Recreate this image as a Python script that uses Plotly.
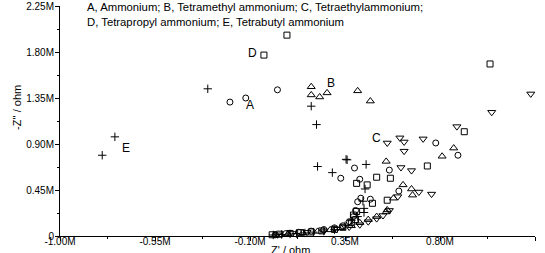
import plotly.graph_objects as go

# Series values (ohm, in units of 1e6)
A_x = [-0.195, -0.12, 0.03, 0.78, 0.885, 0.395, 0.56, 0.33, 0.42, 0.605, 0.41, 0.425, 0.47, 0.40, 0.39, 0.37, 0.34, 0.30, 0.25, 0.19, 0.13, 0.07, 0.02]
A_y = [1.31, 1.35, 1.43, 0.91, 0.79, 0.665, 0.645, 0.565, 0.555, 0.44, 0.335, 0.37, 0.36, 0.25, 0.19, 0.14, 0.10, 0.080, 0.063, 0.048, 0.036, 0.024, 0.012]

B_x = [0.19, 0.19, 0.23, 0.265, 0.41, 0.47, 0.545, 0.81, 0.865, 0.625, 0.665, 0.67, 0.58, 0.55, 0.545, 0.50, 0.46, 0.42, 0.38, 0.33, 0.28, 0.22, 0.15, 0.08, 0.02]
B_y = [1.46, 1.38, 1.36, 1.40, 1.42, 1.32, 0.73, 0.78, 0.86, 0.50, 0.46, 0.40, 0.37, 0.255, 0.235, 0.19, 0.16, 0.13, 0.10, 0.080, 0.060, 0.045, 0.032, 0.020, 0.010]

C_x = [1.23, 1.045, 0.88, 0.72, 0.63, 0.61, 0.55, 0.63, 0.615, 0.665, 0.70, 0.76, 0.60, 0.56, 0.53, 0.50, 0.46, 0.42, 0.37, 0.31, 0.25, 0.17, 0.10, 0.03]
C_y = [1.39, 1.21, 1.07, 0.95, 0.92, 0.96, 0.91, 0.83, 0.67, 0.64, 0.43, 0.41, 0.385, 0.25, 0.20, 0.17, 0.14, 0.11, 0.088, 0.066, 0.050, 0.036, 0.025, 0.012]

D_x = [-0.034, 0.075, 1.037, 0.915, 0.74, 0.50, 0.565, 0.405, 0.455, 0.55, 0.48, 0.405, 0.39, 0.40, 0.38, 0.34, 0.30, 0.24, 0.19, 0.14, 0.09, 0.04, 0.005]
D_y = [1.77, 1.965, 1.683, 1.02, 0.685, 0.575, 0.565, 0.515, 0.50, 0.35, 0.32, 0.24, 0.205, 0.16, 0.13, 0.085, 0.065, 0.050, 0.040, 0.033, 0.025, 0.018, 0.012]

E_x = [-0.80, -0.74, -0.30, 0.19, 0.215, 0.22, 0.29, 0.355, 0.36, 0.45, 0.445, 0.435, 0.44, 0.44, 0.41, 0.38, 0.35, 0.30, 0.25, 0.20, 0.16, 0.12, 0.09, 0.05, 0.01]
E_y = [0.79, 0.97, 1.44, 1.27, 1.09, 0.68, 0.62, 0.75, 0.745, 0.70, 0.46, 0.34, 0.27, 0.23, 0.19, 0.15, 0.10, 0.062, 0.048, 0.038, 0.030, 0.024, 0.020, 0.015, 0.010]

series_names = ["Ammonium", "Tetramethyl ammonium", "Tetraethylammonium", "Tetrapropyl ammonium", "Tetrabutyl ammonium"]
series_labels = ["A", "B", "C", "D", "E"]
label_x = [-0.10, 0.284, 0.497, -0.086, -0.687]
label_y = [1.28, 1.50, 0.96, 1.79, 0.86]

x_tickvals = [-1.00, -0.55, -0.10, 0.35, 0.80, 1.25]
x_ticktext = ["-1.00M", "-0.55M", "-0.10M", "0.35M", "0.80M", "1.25M"]
y_tickvals = [0, 0.45, 0.90, 1.35, 1.80, 2.25]
y_ticktext = ["0", "0.45M", "0.90M", "1.35M", "1.80M", "2.25M"]

M = 1e6
symbols = ["circle-open", "triangle-up-open", "triangle-down-open", "square-open", "cross-thin-open"]
xs = [A_x, B_x, C_x, D_x, E_x]
ys = [A_y, B_y, C_y, D_y, E_y]
sizes = [6, 7, 7, 6, 6]

FONT = "Liberation Sans, Arial, sans-serif"

fig = go.Figure()
for name, sym, x, y, s in zip(series_names, symbols, xs, ys, sizes):
    fig.add_trace(go.Scatter(
        x=[v * M for v in x], y=[v * M for v in y], mode="markers", name=name,
        marker=dict(symbol=sym, size=s, color="black", line=dict(color="black", width=1)),
        cliponaxis=False,
    ))

for lab, lx, ly in zip(series_labels, label_x, label_y):
    fig.add_annotation(x=lx * M, y=ly * M, text=lab, showarrow=False,
                       font=dict(family=FONT, size=12, color="black"))

fig.add_annotation(xref="paper", yref="paper", x=0.052, y=1.03, xanchor="left", yanchor="top",
                   text="A, Ammonium; B, Tetramethyl ammonium; C, Tetraethylammonium;<br>D, Tetrapropyl ammonium; E, Tetrabutyl ammonium",
                   align="left", showarrow=False, font=dict(family=FONT, size=11.3, color="black"))

fig.add_annotation(xref="paper", yref="paper", x=0.485, y=-0.025, xanchor="center", yanchor="top",
                   text="Z' / ohm", showarrow=False, font=dict(family=FONT, size=11, color="black"))
fig.add_annotation(xref="paper", yref="paper", x=-0.0905, y=0.557, xanchor="center", yanchor="middle",
                   text="-Z'' / ohm", textangle=-90, showarrow=False, font=dict(family=FONT, size=11, color="black"))

axis_common = dict(showgrid=False, zeroline=False, showline=True, linecolor="black", linewidth=1,
                   ticks="outside", ticklen=4, tickcolor="black", mirror=False, automargin=False,
                   tickfont=dict(family=FONT, size=10, color="black"))

fig.update_xaxes(range=[-1.0 * M, 1.25 * M], tickmode="array",
                 tickvals=[v * M for v in x_tickvals], ticktext=x_ticktext, ticklabelstandoff=-8,
                 minor=dict(ticks="outside", ticklen=2, tick0=-1.0 * M, dtick=0.225 * M, tickcolor="black"),
                 **axis_common)
fig.update_yaxes(range=[0, 2.25 * M], tickmode="array",
                 tickvals=[v * M for v in y_tickvals], ticktext=y_ticktext, ticklabelstandoff=-1,
                 minor=dict(ticks="outside", ticklen=2, tick0=0, dtick=0.225 * M, tickcolor="black"),
                 **axis_common)

fig.update_layout(width=545, height=253, margin=dict(l=60, r=10, t=6, b=17),
                  paper_bgcolor="white", plot_bgcolor="white", showlegend=False)

fig.write_html("out.html", config={"displayModeBar": False},
               post_script="document.body.style.margin='0';document.body.style.overflow='hidden';")
